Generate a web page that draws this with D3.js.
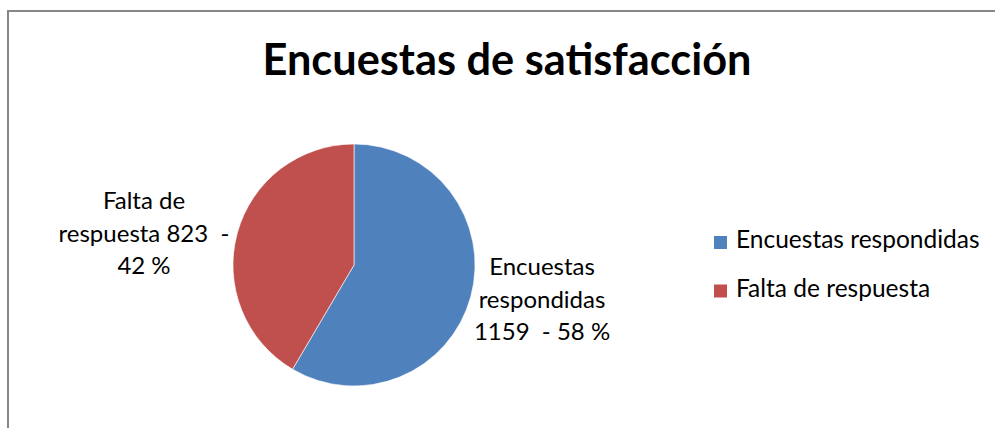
<!DOCTYPE html>
<html>
<head>
<meta charset="utf-8">
<script src="https://cdn.jsdelivr.net/npm/d3@7"></script>
<style>
  html, body { margin: 0; padding: 0; background: #fff; }
  svg { display: block; }
  text { font-family: Lato, "Open Sans", sans-serif; fill: #000; white-space: pre; }
</style>
</head>
<body>
<svg id="chart" width="995" height="428"></svg>
<script>
// Survey results
const categories = ["Encuestas respondidas", "Falta de respuesta"];
const values = [1159, 823];
const percents = [58, 42];
const colors = ["#4F81BD", "#C0504D"];
const titleText = "Encuestas de satisfacción";

const svg = d3.select("#chart");
const W = 995, H = 428;

// Scale a text element's font so it spans the given width
function fitWidth(sel, width) {
  const node = sel.node();
  const fs = parseFloat(sel.style("font-size"));
  const w = node.getComputedTextLength();
  sel.style("font-size", (fs * width / w).toFixed(2) + "px");
}

// Chart frame (only top and left edges fall inside the view)
svg.append("path")
  .attr("d", `M8,${H + 2} L8,11 L${W + 2},11`)
  .attr("fill", "none")
  .attr("stroke", "#878787")
  .attr("stroke-width", 2);

// Title
const title = svg.append("text")
  .attr("x", 507)
  .attr("y", 75)
  .attr("text-anchor", "middle")
  .style("font-size", "40px")
  .style("font-weight", "bold")
  .text(titleText);
fitWidth(title, 489);

// Pie
const cx = 354, cy = 265, r = 121;
const pie = d3.pie().sort(null).value(d => d.value);
const arcs = pie(categories.map((c, i) => ({ name: c, value: values[i], pct: percents[i], color: colors[i] })));
const arc = d3.arc().innerRadius(0).outerRadius(r);

const g = svg.append("g").attr("transform", `translate(${cx},${cy})`);
g.selectAll("path.slice")
  .data(arcs)
  .join("path")
  .attr("class", "slice")
  .attr("d", arc)
  .attr("fill", d => d.data.color)
  .attr("stroke", "#fff")
  .attr("stroke-width", 0.6);

// Data labels
const labelFont = 24;
const labelLines = [
  [["Encuestas", "respondidas", `${values[0]}  - ${percents[0]} %`], 542, 275],
  [["Falta de", `respuesta ${values[1]}  -`, `${percents[1]} %`], 144, 209]
];
labelLines.forEach(([lines, x, y]) => {
  const t = svg.append("text")
    .attr("text-anchor", "middle")
    .style("font-size", labelFont + "px");
  lines.forEach((ln, i) => {
    t.append("tspan").attr("x", x).attr("y", y + i * 32.5).text(ln);
  });
});

// Legend
const legend = svg.append("g");
categories.forEach((c, i) => {
  const base = 248 + i * 48.5;
  legend.append("rect")
    .attr("x", 714).attr("y", base - 12)
    .attr("width", 13).attr("height", 13)
    .attr("fill", colors[i]);
  legend.append("text")
    .attr("x", 736).attr("y", base)
    .style("font-size", "24.5px")
    .text(c);
});
</script>
</body>
</html>
